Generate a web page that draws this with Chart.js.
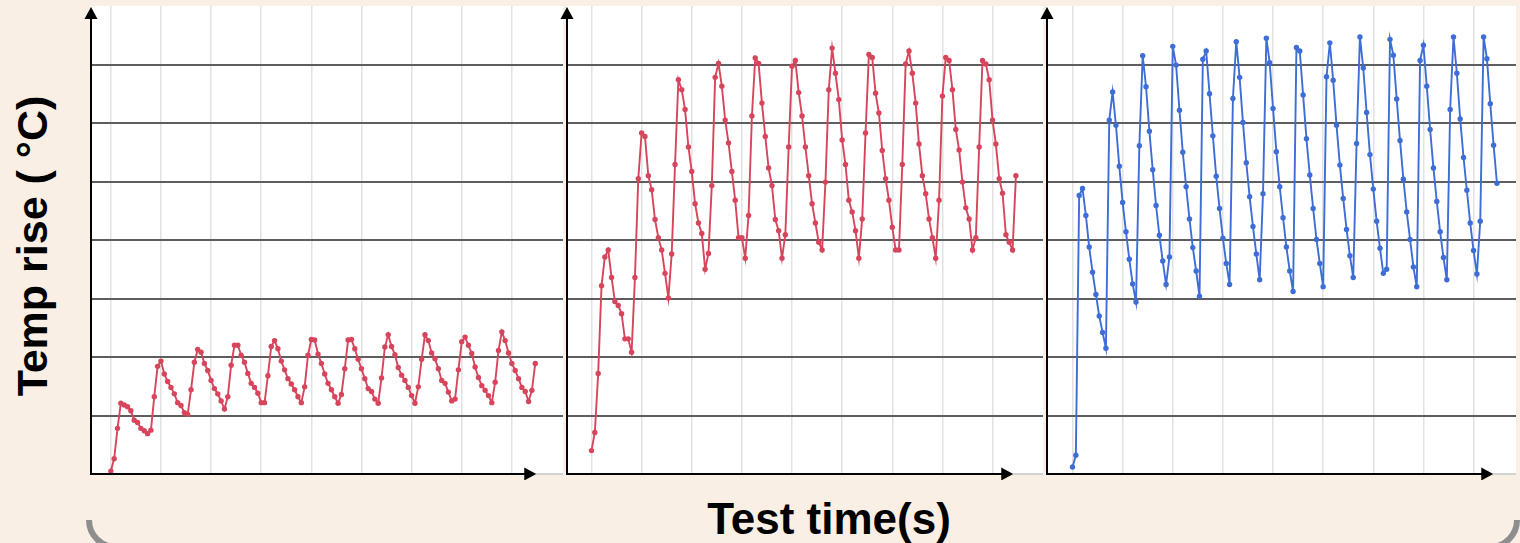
<!DOCTYPE html>
<html lang="en">
<head>
<meta charset="UTF-8">
<title>Temp rise vs test time</title>
<script src="https://cdn.jsdelivr.net/npm/chart.js@4.4.1/dist/chart.umd.js"></script>
<style>
    html, body { margin: 0; padding: 0; }
    body { width: 1520px; height: 543px; overflow: hidden; background: #f9efe4; position: relative;
           font-family: 'Liberation Sans', Arial, sans-serif; }
    canvas { position: absolute; top: 0; }
    .ytitle { position: absolute; left: 32px; top: 246px; transform: translate(-50%, -50%) rotate(-90deg);
              font-weight: bold; font-size: 43px; white-space: nowrap; color: #000; }
    .xtitle { position: absolute; left: 829px; top: 519px; transform: translate(-50%, -50%);
              font-weight: bold; font-size: 44px; white-space: nowrap; color: #000; }
    .bracket-clip { position: absolute; left: 0; top: 520px; width: 1520px; height: 23px; overflow: hidden; }
    .bracket { position: absolute; left: 86px; top: -30px; width: 1434px; height: 60px;
               border: 6px solid #8e8e8e; border-radius: 30px; box-sizing: border-box; }
</style>
</head>
<body>
    <canvas id="panel1" width="484" height="480" style="left:83px"></canvas>
    <canvas id="panel2" width="488" height="480" style="left:559px"></canvas>
    <canvas id="panel3" width="481" height="480" style="left:1039px"></canvas>
    <div class="ytitle">Temp rise ( °C)</div>
    <div class="xtitle">Test time(s)</div>
    <div class="bracket-clip"><div class="bracket"></div></div>

<script>
// values, one sample per time step
const panel1Temps = [
    0.05, 0.26, 0.78, 1.21, 1.18, 1.15, 1.08, 0.92, 0.88, 0.78,
    0.74, 0.69, 0.75, 1.32, 1.84, 1.93, 1.71, 1.58, 1.48, 1.37,
    1.22, 1.17, 1.05, 1.02, 1.44, 1.91, 2.13, 2.08, 1.89, 1.77,
    1.60, 1.46, 1.37, 1.25, 1.11, 1.32, 1.86, 2.20, 2.20, 2.03,
    1.91, 1.72, 1.55, 1.48, 1.38, 1.22, 1.22, 1.68, 2.18, 2.28,
    2.14, 1.93, 1.78, 1.63, 1.54, 1.44, 1.32, 1.22, 1.49, 2.03,
    2.30, 2.29, 2.05, 1.89, 1.71, 1.55, 1.44, 1.32, 1.21, 1.36,
    1.80, 2.29, 2.30, 2.14, 1.96, 1.80, 1.63, 1.46, 1.41, 1.28,
    1.21, 1.64, 2.17, 2.38, 2.18, 2.04, 1.82, 1.69, 1.60, 1.48,
    1.34, 1.21, 1.49, 1.96, 2.38, 2.28, 2.07, 1.97, 1.80, 1.60,
    1.55, 1.40, 1.25, 1.28, 1.78, 2.26, 2.34, 2.20, 2.06, 1.83,
    1.65, 1.51, 1.43, 1.34, 1.22, 1.57, 2.11, 2.43, 2.28, 2.07,
    1.89, 1.77, 1.63, 1.48, 1.41, 1.24, 1.43, 1.89
];
const panel2Temps = [
    0.40, 0.71, 1.72, 3.22, 3.71, 3.83, 3.36, 2.95, 2.88, 2.74,
    2.31, 2.31, 2.08, 3.36, 5.05, 5.83, 5.77, 5.10, 4.86, 4.35,
    4.04, 3.83, 3.43, 3.01, 3.76, 5.29, 6.74, 6.57, 6.23, 5.59,
    5.17, 4.62, 4.29, 4.11, 3.50, 3.77, 4.93, 6.78, 7.02, 6.63,
    6.05, 5.66, 5.17, 4.68, 4.04, 4.04, 3.69, 4.42, 6.12, 7.11,
    7.02, 6.34, 5.77, 5.23, 4.93, 4.35, 4.16, 3.69, 4.09, 5.59,
    6.97, 7.07, 6.52, 6.12, 5.59, 5.10, 4.62, 4.29, 3.96, 3.83,
    4.99, 6.57, 7.28, 6.85, 6.40, 5.71, 5.29, 4.68, 4.48, 4.16,
    3.69, 4.36, 5.83, 7.17, 7.12, 6.51, 6.17, 5.53, 5.05, 4.68,
    4.22, 3.83, 3.83, 5.29, 7.01, 7.23, 6.85, 6.34, 5.64, 5.10,
    4.79, 4.36, 4.04, 3.69, 4.68, 6.46, 7.12, 7.07, 6.57, 5.89,
    5.54, 4.99, 4.55, 4.36, 3.83, 4.04, 5.59, 7.07, 7.01, 6.74,
    6.05, 5.64, 5.05, 4.80, 4.09, 3.96, 3.83, 5.10
];
const panel3Temps = [
    0.12, 0.32, 4.76, 4.88, 4.42, 3.88, 3.45, 3.07, 2.70, 2.42,
    2.15, 6.05, 6.53, 5.96, 5.26, 4.64, 4.14, 3.67, 3.25, 2.94,
    5.61, 7.15, 6.62, 5.86, 5.20, 4.59, 4.08, 3.64, 3.24, 3.71,
    7.31, 6.99, 6.22, 5.50, 4.91, 4.36, 3.87, 3.47, 3.04, 7.09,
    7.23, 6.50, 5.78, 5.09, 4.54, 4.03, 3.60, 3.24, 6.42, 7.39,
    6.78, 6.01, 5.32, 4.74, 4.23, 3.76, 3.32, 4.79, 7.45, 7.03,
    6.25, 5.51, 4.91, 4.38, 3.88, 3.47, 3.12, 7.29, 7.23, 6.48,
    5.73, 5.11, 4.54, 4.01, 3.60, 3.20, 6.79, 7.37, 6.73, 5.96,
    5.28, 4.71, 4.18, 3.73, 3.36, 5.65, 7.47, 6.94, 6.18, 5.46,
    4.87, 4.32, 3.86, 3.43, 3.50, 7.43, 7.16, 6.41, 5.70, 5.04,
    4.48, 4.01, 3.54, 3.20, 7.07, 7.33, 6.63, 5.89, 5.23, 4.66,
    4.14, 3.70, 3.32, 6.23, 7.47, 6.85, 6.07, 5.41, 4.85, 4.29,
    3.82, 3.42, 4.32, 7.47, 7.10, 6.33, 5.62, 4.97
];
// vertical grid positions (time steps) and horizontal grid levels
const timeTicks = [0, 15, 30, 45, 60, 75, 90, 105, 120];
const tempTicks = [0, 1, 2, 3, 4, 5, 6, 7, 8];

const RED = '#d6455b';
const BLUE = '#3e6dd6';

// white plot area, black axes with arrow heads
const axesPlugin = {
    id: 'axes',
    beforeDraw(chart) {
        const { ctx, chartArea: a } = chart;
        ctx.save();
        ctx.fillStyle = '#ffffff';
        ctx.fillRect(a.left, a.top, a.right - a.left, a.bottom - a.top);
        ctx.restore();
    },
    afterDraw(chart, args, opts) {
        const { ctx, chartArea: a, scales } = chart;
        const tip = scales.x.getPixelForValue(opts.arrowEnd);
        ctx.save();
        ctx.lineWidth = 2;
        ctx.strokeStyle = '#d2d2d2';
        ctx.beginPath();
        ctx.moveTo(tip, a.bottom);
        ctx.lineTo(a.right, a.bottom);
        ctx.stroke();

        ctx.strokeStyle = '#000';
        ctx.fillStyle = '#000';
        ctx.beginPath();
        ctx.moveTo(a.left, a.bottom + 1);
        ctx.lineTo(a.left, a.top + 10);
        ctx.moveTo(a.left - 1, a.bottom);
        ctx.lineTo(tip - 10, a.bottom);
        ctx.stroke();

        ctx.beginPath();
        ctx.moveTo(a.left, a.top + 1);
        ctx.lineTo(a.left - 6.5, a.top + 13);
        ctx.lineTo(a.left + 6.5, a.top + 13);
        ctx.closePath();
        ctx.fill();

        ctx.beginPath();
        ctx.moveTo(tip, a.bottom);
        ctx.lineTo(tip - 12, a.bottom - 6.5);
        ctx.lineTo(tip - 12, a.bottom + 6.5);
        ctx.closePath();
        ctx.fill();
        ctx.restore();
    }
};

function makePanel(id, temps, color, xMin, xMax, arrowEnd) {
    const points = temps.map((v, i) => ({ x: i, y: v }));
    return new Chart(document.getElementById(id), {
        type: 'line',
        data: {
            datasets: [{
                data: points,
                borderColor: color,
                backgroundColor: color,
                borderWidth: 1.9,
                pointRadius: 2.7,
                pointBorderWidth: 0,
                pointBackgroundColor: color,
                tension: 0
            }]
        },
        options: {
            responsive: false,
            animation: false,
            events: [],
            layout: { padding: { left: 8, right: 0, top: 6, bottom: 6 } },
            plugins: { legend: { display: false }, tooltip: { enabled: false }, axes: { arrowEnd } },
            scales: {
                x: {
                    type: 'linear',
                    min: xMin,
                    max: xMax,
                    afterBuildTicks: s => { s.ticks = timeTicks.map(v => ({ value: v })); },
                    afterFit: s => { s.height = 0; },
                    ticks: { display: false },
                    border: { display: false },
                    grid: { color: '#e2e2e2', lineWidth: 1.5, drawTicks: false }
                },
                y: {
                    min: 0,
                    max: 8,
                    afterBuildTicks: s => { s.ticks = tempTicks.map(v => ({ value: v })); },
                    afterFit: s => { s.width = 0; },
                    ticks: { display: false },
                    border: { display: false },
                    grid: {
                        drawTicks: false,
                        lineWidth: 2,
                        color: c => (c.tick.value > 0 && c.tick.value < 8) ? '#5e5e5e' : 'rgba(0,0,0,0)'
                    }
                }
            }
        },
        plugins: [axesPlugin]
    });
}

makePanel('panel1', panel1Temps, RED, -5.93, 135.3, 127.3);
makePanel('panel2', panel2Temps, RED, -7.33, 135.1, 126.2);
makePanel('panel3', panel3Temps, BLUE, -7.63, 132.7, 125.9);
</script>
</body>
</html>
